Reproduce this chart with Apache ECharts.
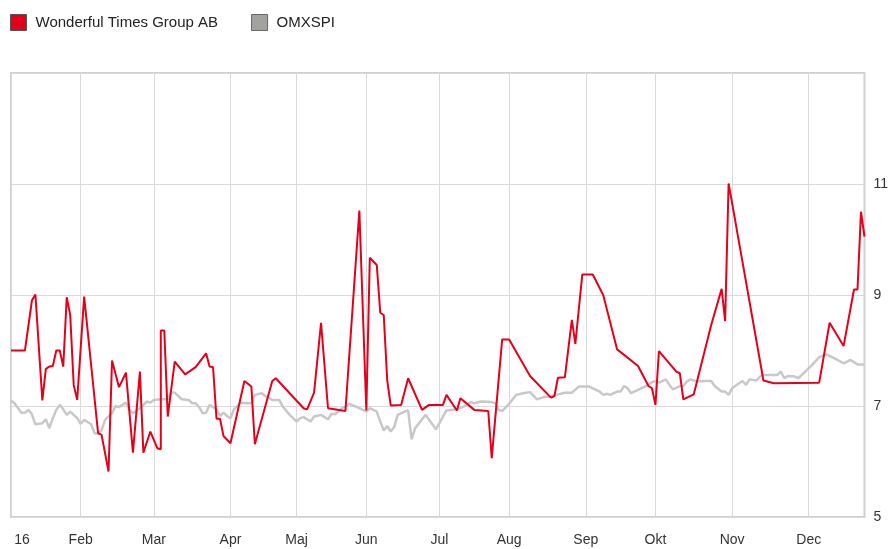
<!DOCTYPE html>
<html>
<head>
<meta charset="utf-8">
<script src="https://cdn.jsdelivr.net/npm/echarts@6/dist/echarts.min.js"></script>
<style>
html,body{margin:0;padding:0;background:#fff;}
#chart{width:891px;height:549px;}
</style>
</head>
<body>
<div id="chart"></div>
<script>
// Month tick labels and trading days per month (category axis)
const monthLabels = ['16','Feb','Mar','Apr','Maj','Jun','Jul','Aug','Sep','Okt','Nov','Dec'];
const tradingDaysPerMonth = [20,21,22,19,20,21,20,22,20,22,22,17];

// Wonderful Times Group AB: [trading day index, price]
const wtgPoints = [
  [0,8.0],[4,8.0],[6,8.9],[7,9.01],[9,7.1],[10,7.67],[11,7.71],[12,7.72],[13,8.0],[14,8.0],
  [15,7.71],[16,8.96],[17,8.64],[18,7.38],[19,7.11],[21,8.97],[25,6.51],[26,6.48],[28,5.82],[29,7.82],
  [31,7.34],[33,7.6],[35,6.16],[37,7.62],[38,6.16],[40,6.54],[42,6.24],[43,6.22],[43,8.36],[44,8.36],
  [45,6.81],[47,7.8],[50,7.57],[53,7.7],[56,7.95],[57,7.71],[58,7.7],[59,6.77],[60,6.77],[61,6.46],
  [63,6.33],[67,7.45],[69,7.35],[70,6.31],[71,6.54],[75,7.45],[76,7.5],[84,6.96],[85,6.94],[87,7.24],
  [89,8.5],[91,6.96],[96,6.91],[100,10.52],[102,6.92],[103,9.67],[105,9.54],[106,8.68],[107,8.64],[108,7.46],
  [109,7.01],[112,7.02],[114,7.5],[118,6.93],[120,7.02],[124,7.02],[125,7.2],[128,6.92],[129,7.14],[133,6.93],
  [137,6.91],[138,6.06],[141,8.2],[143,8.2],[149,7.54],[155,7.15],[156,7.18],[157,7.51],[159,7.52],[161,8.55],
  [162,8.12],[164,9.37],[167,9.37],[170,9.0],[174,8.02],[180,7.72],[183,7.36],[184,7.32],[185,7.02],[186,7.99],
  [191,7.62],[192,7.59],[193,7.12],[196,7.21],[201,8.46],[204,9.11],[205,8.53],[206,11.01],[216,7.46],[219,7.41],
  [232,7.42],[235,8.5],[239,8.08],[242,9.1],[243,9.1],[244,10.5],[245,10.05]
];

// OMXSPI (rebased): [trading day index, value]
const omxPoints = [
  [0,7.10],[1,7.05],[3,6.88],[4,6.88],[5,6.93],[6,6.85],[7,6.67],[9,6.69],[10,6.76],[11,6.60],
  [12,6.78],[13,6.93],[14,7.02],[15,6.94],[16,6.84],[17,6.90],[19,6.78],[20,6.68],[21,6.75],[23,6.67],
  [24,6.51],[25,6.50],[26,6.56],[27,6.75],[29,6.87],[30,7.00],[31,6.98],[33,7.06],[34,6.93],[35,6.87],
  [37,6.96],[39,7.08],[40,7.06],[41,7.11],[43,7.12],[45,7.12],[46,7.25],[47,7.24],[48,7.18],[49,7.12],
  [51,7.11],[52,7.05],[53,7.05],[54,6.98],[55,6.87],[56,6.88],[57,7.02],[58,6.98],[59,6.94],[60,6.82],
  [61,6.88],[62,6.82],[63,6.78],[64,6.94],[65,7.00],[66,7.06],[68,7.05],[69,7.05],[70,7.20],[72,7.23],
  [73,7.18],[75,7.11],[77,7.11],[78,6.99],[80,6.84],[82,6.72],[83,6.78],[84,6.80],[86,6.72],[87,6.81],
  [89,6.84],[91,6.76],[92,6.86],[93,6.85],[95,6.96],[96,6.99],[97,7.04],[99,6.99],[101,6.93],[102,6.90],
  [103,6.96],[105,6.90],[106,6.72],[107,6.56],[108,6.64],[109,6.54],[110,6.62],[111,6.84],[113,6.90],[114,6.92],
  [115,6.40],[116,6.60],[119,6.84],[122,6.58],[124,6.81],[125,6.92],[128,6.94],[130,6.99],[132,7.07],[133,7.05],
  [135,7.08],[138,7.07],[139,7.05],[140,6.93],[141,6.91],[143,7.04],[145,7.20],[147,7.23],[149,7.25],[151,7.12],
  [153,7.16],[155,7.17],[157,7.21],[159,7.24],[161,7.24],[163,7.35],[166,7.35],[169,7.26],[170,7.20],[171,7.22],
  [172,7.20],[174,7.26],[175,7.26],[176,7.36],[177,7.32],[178,7.23],[180,7.29],[182,7.35],[184,7.43],[185,7.45],
  [186,7.42],[188,7.48],[189,7.38],[190,7.30],[192,7.36],[193,7.36],[194,7.44],[195,7.48],[197,7.44],[199,7.45],
  [201,7.45],[202,7.36],[204,7.26],[205,7.26],[206,7.20],[207,7.32],[209,7.41],[210,7.45],[211,7.38],[212,7.48],
  [214,7.46],[215,7.53],[216,7.56],[220,7.56],[221,7.62],[222,7.50],[223,7.54],[225,7.53],[226,7.50],[228,7.62],
  [230,7.74],[232,7.88],[234,7.93],[236,7.87],[239,7.77],[241,7.83],[243,7.75],[245,7.75]
];

// Build category list: "month-dayOfMonthIndex"
const categories = [];
tradingDaysPerMonth.forEach((n, m) => {
  for (let d = 0; d < n; d++) categories.push(m + '-' + d);
});
const isMonthStart = (idx, val) => String(val).endsWith('-0');

const chart = echarts.init(document.getElementById('chart'), null, {renderer: 'canvas'});
const font = 'Liberation Sans, Arial, Helvetica, sans-serif';
chart.setOption({
  animation: false,
  backgroundColor: '#fff',
  textStyle: {fontFamily: font},
  legend: {
    left: 10, top: 14,
    padding: 0,
    icon: 'rect',
    itemWidth: 16, itemHeight: 16,
    itemGap: 33,
    textStyle: {fontSize: 15, color: '#222', fontFamily: font, padding: [0, 0, 0, 4]},
    data: [
      {name: 'Wonderful Times Group AB', itemStyle: {color: '#e3001b', borderColor: '#555', borderWidth: 1}},
      {name: 'OMXSPI', itemStyle: {color: '#a2a29f', borderColor: '#666', borderWidth: 1}}
    ]
  },
  grid: {
    left: 11, right: 24, top: 73, bottom: 32,
    show: true, borderColor: '#d0d0d0', borderWidth: 2,
    containLabel: false
  },
  xAxis: {
    type: 'category',
    data: categories,
    boundaryGap: false,
    axisLine: {show: false},
    axisTick: {show: false},
    axisLabel: {
      interval: isMonthStart,
      margin: 16,
      fontSize: 14,
      color: '#333',
      fontFamily: font,
      formatter: (val) => {
        const m = parseInt(String(val).split('-')[0], 10);
        return m === 0 ? '{first|' + monthLabels[0] + '}' : monthLabels[m];
      },
      rich: {first: {fontSize: 14, color: '#333', fontFamily: font, padding: [0, 0, 0, 22]}}
    },
    splitLine: {show: true, interval: isMonthStart, lineStyle: {color: '#dadada', width: 1}}
  },
  yAxis: {
    type: 'value',
    position: 'right',
    min: 5, max: 13, interval: 2,
    axisLine: {show: false},
    axisTick: {show: false},
    axisLabel: {
      showMaxLabel: false,
      margin: 9,
      fontSize: 14,
      color: '#333',
      fontFamily: font,
      padding: [0, 0, 10, 0]
    },
    splitLine: {show: true, lineStyle: {color: '#dadada', width: 1}}
  },
  series: [
    {
      name: 'Wonderful Times Group AB',
      type: 'line',
      data: wtgPoints,
      showSymbol: false,
      z: 3,
      itemStyle: {color: '#e3001b'},
      lineStyle: {color: '#e3001b', width: 2}
    },
    {
      name: 'OMXSPI',
      type: 'line',
      data: omxPoints,
      showSymbol: false,
      z: 2,
      itemStyle: {color: '#c8c8c8'},
      lineStyle: {color: '#c8c8c8', width: 2.5}
    }
  ]
});
</script>
</body>
</html>
